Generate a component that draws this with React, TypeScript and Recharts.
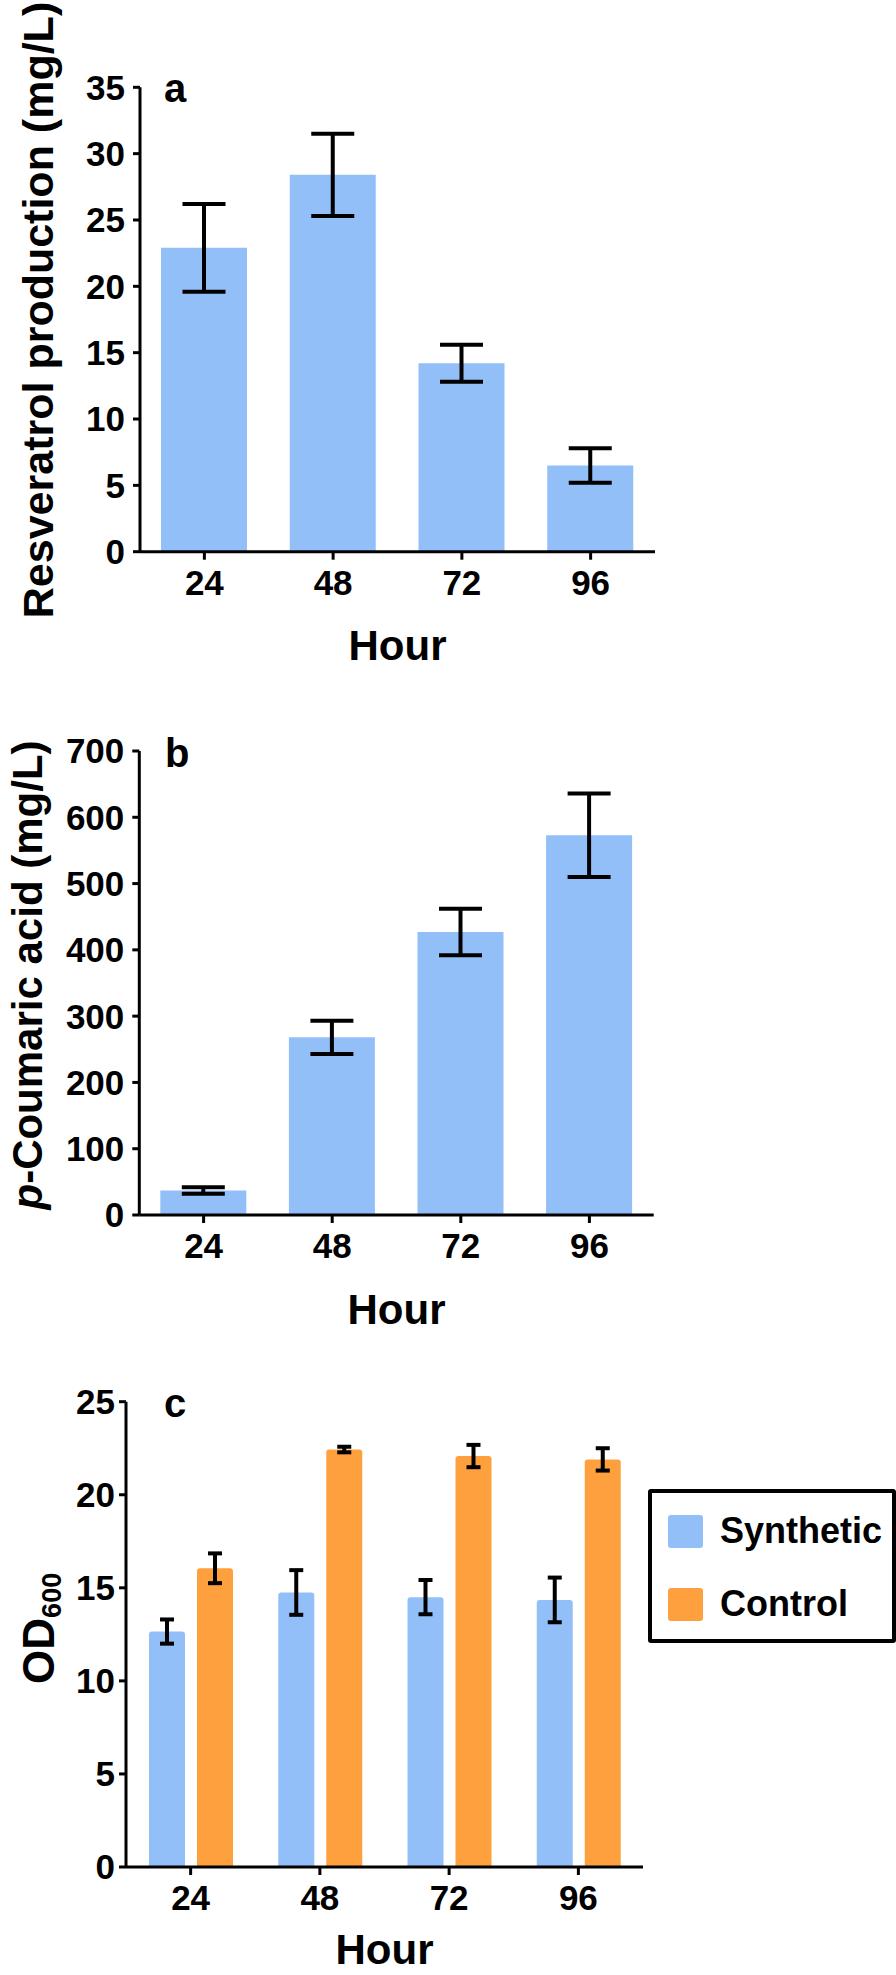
import { Bar, BarChart, ErrorBar, XAxis, YAxis } from "recharts";

const HOURS = ["24", "48", "72", "96"];

// panel a
const RESVERATROL = [22.9, 28.4, 14.2, 6.5];
const RESVERATROL_SD = [3.3, 3.1, 1.4, 1.3];
const TICKS_A = [0, 5, 10, 15, 20, 25, 30, 35];

// panel b
const COUMARIC = [37, 268, 427, 573];
const COUMARIC_SD = [5, 25, 35, 63];
const TICKS_B = [0, 100, 200, 300, 400, 500, 600, 700];

// panel c
const OD_SYNTHETIC = [12.65, 14.75, 14.5, 14.35];
const OD_SYNTHETIC_SD = [0.65, 1.2, 0.92, 1.2];
const OD_CONTROL = [16.05, 22.43, 22.08, 21.9];
const OD_CONTROL_SD = [0.8, 0.15, 0.6, 0.6];
const TICKS_C = [0, 5, 10, 15, 20, 25];

const SERIES_C = [
  { name: "Synthetic", color: "#92bff8" },
  { name: "Control", color: "#ffa03f" },
];

const FONT = "'Liberation Sans', Arial, Helvetica, sans-serif";
const BLUE = "#92bff8";

const dataA = HOURS.map((h, i) => ({ hour: h, value: RESVERATROL[i], sd: RESVERATROL_SD[i] }));
const dataB = HOURS.map((h, i) => ({ hour: h, value: COUMARIC[i], sd: COUMARIC_SD[i] }));
const dataC = HOURS.map((h, i) => ({
  hour: h,
  syn: OD_SYNTHETIC[i],
  synSd: OD_SYNTHETIC_SD[i],
  ctl: OD_CONTROL[i],
  ctlSd: OD_CONTROL_SD[i],
}));

const tickStyle = { fontSize: 35, fontWeight: 700, fill: "#000", fontFamily: FONT };
const axisStroke = { stroke: "#000", strokeWidth: 3 };

function YTitle(props: any) {
  const { viewBox, baseX, shift, size, letter, letterX, letterY, children } = props;
  const cy = viewBox.y + viewBox.height / 2 + shift;
  return (
    <g>
      <text
        transform={`translate(${baseX},${cy}) rotate(-90)`}
        textAnchor="middle"
        fontFamily={FONT}
        fontWeight={700}
        fontSize={size}
        fill="#000"
      >
        {children}
      </text>
      <text x={letterX} y={viewBox.y + letterY} fontFamily={FONT} fontWeight={700} fontSize={40} fill="#000">
        {letter}
      </text>
    </g>
  );
}

function HourTitle(props: any) {
  const { viewBox, dy } = props;
  return (
    <text
      x={viewBox.x + viewBox.width / 2}
      y={viewBox.y + dy}
      textAnchor="middle"
      fontFamily={FONT}
      fontWeight={700}
      fontSize={42}
      fill="#000"
    >
      Hour
    </text>
  );
}

function PanelA() {
  return (
    <BarChart width={896} height={700} data={dataA} margin={{ top: 87.3, right: 241, bottom: 0, left: 0 }}>
      <XAxis
        dataKey="hour"
        height={148.3}
        axisLine={axisStroke}
        tickLine={axisStroke}
        tickSize={8}
        tickMargin={10}
        tick={tickStyle}
        label={{ content: (p: any) => <HourTitle {...p} dy={108.5} /> }}
      />
      <YAxis
        width={140}
        domain={[0, 35]}
        ticks={TICKS_A}
        interval={0}
        axisLine={axisStroke}
        tickLine={axisStroke}
        tickSize={7}
        tickMargin={8}
        tick={tickStyle}
        label={{
          content: (p: any) => (
            <YTitle {...p} baseX={53} shift={-9.5} size={43} letter="a" letterX={164} letterY={14.7}>
              Resveratrol production (mg/L)
            </YTitle>
          ),
        }}
      />
      <Bar dataKey="value" fill={BLUE} barSize={86} isAnimationActive={false}>
        <ErrorBar dataKey="sd" width={21.5} strokeWidth={4} stroke="#000" isAnimationActive={false} />
      </Bar>
    </BarChart>
  );
}

function PanelB() {
  return (
    <BarChart width={896} height={700} data={dataB} margin={{ top: 91, right: 242.3, bottom: 0, left: 0 }}>
      <XAxis
        dataKey="hour"
        height={145}
        axisLine={axisStroke}
        tickLine={axisStroke}
        tickSize={8}
        tickMargin={10}
        tick={tickStyle}
        label={{ content: (p: any) => <HourTitle {...p} dy={108.5} /> }}
      />
      <YAxis
        width={139.3}
        domain={[0, 700]}
        ticks={TICKS_B}
        interval={0}
        axisLine={axisStroke}
        tickLine={axisStroke}
        tickSize={7}
        tickMargin={8}
        tick={tickStyle}
        label={{
          content: (p: any) => (
            <YTitle {...p} baseX={42} shift={-8} size={42} letter="b" letterX={165} letterY={16}>
              <tspan fontStyle="italic">p</tspan>-Coumaric acid (mg/L)
            </YTitle>
          ),
        }}
      />
      <Bar dataKey="value" fill={BLUE} barSize={86} isAnimationActive={false}>
        <ErrorBar dataKey="sd" width={21.5} strokeWidth={4} stroke="#000" isAnimationActive={false} />
      </Bar>
    </BarChart>
  );
}

function PanelC() {
  return (
    <BarChart
      width={896}
      height={665}
      data={dataC}
      barGap={12}
      margin={{ top: 91.7, right: 253, bottom: 0, left: 0 }}
    >
      <XAxis
        dataKey="hour"
        height={108}
        axisLine={axisStroke}
        tickLine={axisStroke}
        tickSize={8}
        tickMargin={10}
        tick={tickStyle}
        label={{ content: (p: any) => <HourTitle {...p} dy={97} /> }}
      />
      <YAxis
        width={126}
        domain={[0, 25]}
        ticks={TICKS_C}
        interval={0}
        axisLine={axisStroke}
        tickLine={axisStroke}
        tickSize={7}
        tickMargin={4}
        tick={tickStyle}
        label={{
          content: (p: any) => (
            <YTitle {...p} baseX={54} shift={-6} size={44} letter="c" letterX={164} letterY={15.3}>
              OD
              <tspan fontSize={27} dy={7}>
                600
              </tspan>
            </YTitle>
          ),
        }}
      />
      <Bar dataKey="syn" fill={SERIES_C[0].color} barSize={36} radius={[3, 3, 0, 0]} isAnimationActive={false}>
        <ErrorBar dataKey="synSd" width={7} strokeWidth={4} stroke="#000" isAnimationActive={false} />
      </Bar>
      <Bar dataKey="ctl" fill={SERIES_C[1].color} barSize={36} radius={[3, 3, 0, 0]} isAnimationActive={false}>
        <ErrorBar dataKey="ctlSd" width={7} strokeWidth={4} stroke="#000" isAnimationActive={false} />
      </Bar>
    </BarChart>
  );
}

function LegendBox() {
  return (
    <div
      style={{
        position: "absolute",
        left: 648,
        top: 1489,
        width: 248,
        height: 154,
        boxSizing: "border-box",
        border: "4px solid #000",
        borderRadius: 3,
        background: "#fff",
        fontFamily: FONT,
      }}
    >
      {SERIES_C.map((s, i) => (
        <div key={s.name}>
          <div
            style={{
              position: "absolute",
              left: 16,
              top: 22 + i * 73,
              width: 35,
              height: 33,
              borderRadius: 3,
              background: s.color,
            }}
          />
          <div
            style={{
              position: "absolute",
              left: 68,
              top: 18 + i * 73,
              fontSize: 36,
              fontWeight: 700,
              lineHeight: "40px",
              color: "#000",
            }}
          >
            {s.name}
          </div>
        </div>
      ))}
    </div>
  );
}

export default function App() {
  return (
    <div style={{ position: "relative", width: 896, height: 1975, overflow: "hidden", background: "#fff" }}>
      <style>{"body{margin:0}"}</style>
      <div style={{ position: "absolute", left: 0, top: 0 }}>
        <PanelA />
      </div>
      <div style={{ position: "absolute", left: 0, top: 660 }}>
        <PanelB />
      </div>
      <div style={{ position: "absolute", left: 0, top: 1310 }}>
        <PanelC />
      </div>
      <LegendBox />
    </div>
  );
}
